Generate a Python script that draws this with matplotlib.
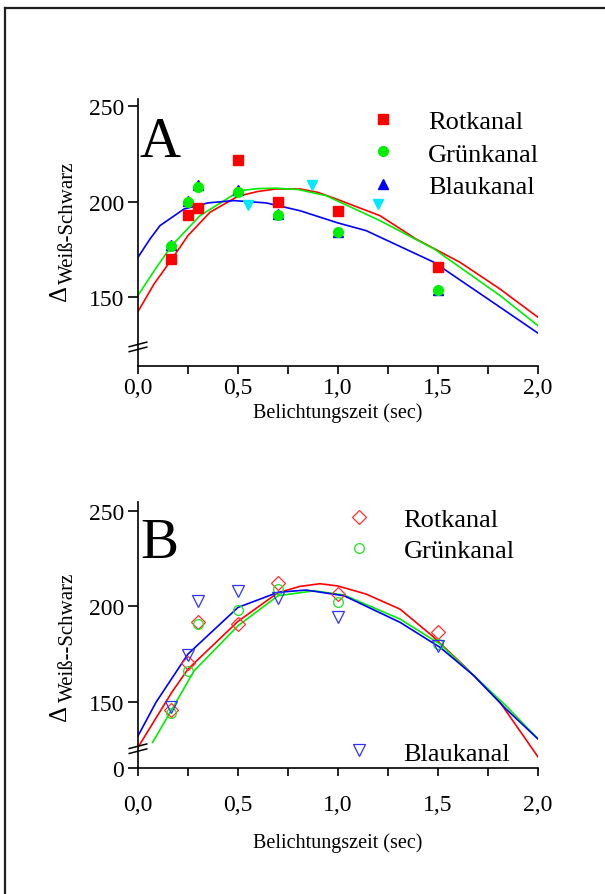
import matplotlib.pyplot as plt
from matplotlib.lines import Line2D
from matplotlib import transforms

plt.rcParams['font.family'] = ['Liberation Serif', 'DejaVu Serif']

# ---------------- Daten Teil A (gefüllte Symbole) ----------------
zeit = [0.167, 0.25, 0.30, 0.50, 0.70, 1.00, 1.50]
rot_a = [170, 193, 197, 222, 200, 195, 166]
gruen_a = [177, 200, 208, 205, 193, 184, 154]
blau_a = [177.5, 200.5, 209, 206, 193.5, 184.5, 154]
zeit_extra = [0.55, 0.87, 1.20]
blau_extra = [198.5, 209, 199]

# Fitkurven Teil A
rot_fit_a_x = [0.0, 0.08, 0.17, 0.25, 0.36, 0.50, 0.60, 0.69, 0.81, 0.90, 0.99, 1.21, 1.39, 1.61, 1.81, 2.0]
rot_fit_a_y = [142.6, 157, 170.2, 182.4, 194.6, 203, 205.5, 206.8, 206.8, 205, 201.6, 192.8, 180.6, 168.4, 154.4, 139.6]
gruen_fit_a_x = [0.0, 0.08, 0.168, 0.31, 0.51, 0.60, 0.69, 0.80, 0.94, 1.21, 1.48, 1.81, 2.0]
gruen_fit_a_y = [151, 163.8, 177.1, 192.8, 205.9, 207, 207.2, 206.5, 203.3, 190.2, 175.4, 151, 135.2]
blau_fit_a_x = [0.0, 0.06, 0.11, 0.23, 0.35, 0.48, 0.64, 0.81, 1.0, 1.14, 1.48, 1.81, 2.0]
blau_fit_a_y = [171, 180.6, 187.6, 196.3, 199.5, 200.7, 199.5, 195.4, 189, 185, 168.4, 144.9, 131.3]

# ---------------- Daten Teil B (offene Symbole) ----------------
rot_b = [145.7, 170.2, 191.8, 190.7, 212, 206.1, 186.2]
gruen_b = [143.8, 166.1, 190.6, 198.1, 208.9, 201.9, 180.1]
blau_b = [147, 174.5, 202.8, 208, 204.2, 194.4, 179.2]

rot_fit_b_x = [0.0, 0.17, 0.25, 0.50, 0.70, 0.81, 0.91, 1.00, 1.14, 1.31, 1.47, 1.63, 1.81, 2.0]
rot_fit_b_y = [126, 155, 167, 192, 207, 210.3, 211.7, 210.5, 206.3, 198.4, 184.5, 168.7, 149.6, 121]
gruen_fit_b_x = [0.073, 0.17, 0.28, 0.50, 0.70, 0.88, 1.03, 1.31, 1.51, 1.68, 1.84, 2.0]
gruen_fit_b_y = [128.6, 146, 166, 189.7, 205.4, 208, 205.8, 193.2, 180.1, 163.5, 147.8, 130.4]
blau_fit_b_x = [0.0, 0.09, 0.25, 0.50, 0.70, 0.84, 1.03, 1.31, 1.51, 1.68, 1.84, 2.0]
blau_fit_b_y = [132, 149.6, 174.9, 199.3, 207.2, 208.4, 205.4, 191.5, 178.4, 163.5, 146.1, 130.4]

x_ticks = [0.0, 0.5, 1.0, 1.5, 2.0]
x_ticklabels = ['0,0', '0,5', '1,0', '1,5', '2,0']
x_minor = [0.25, 0.75, 1.25, 1.75]
y_ticks_a = [150, 200, 250]
y_ticks_b = [115.2, 150, 200, 250]
y_ticklabels_b = ['0', '150', '200', '250']

ROT, GRUEN, BLAU, CYAN = '#ff0000', '#00ee00', '#0000ff', '#00e8ff'


def achsen_stil(ax, xpad=2, labelpad=3):
    for s in ['top', 'right']:
        ax.spines[s].set_visible(False)
    for s in ['left', 'bottom']:
        ax.spines[s].set_linewidth(1.2)
    ax.set_xlim(0, 2.0)
    ax.set_xticks(x_ticks)
    ax.set_xticklabels(x_ticklabels)
    ax.set_xticks(x_minor, minor=True)
    ax.tick_params(axis='x', which='both', direction='out', length=6, width=1.2, labelsize=17, pad=xpad)
    ax.tick_params(axis='y', direction='out', length=7.2, width=1.2, labelsize=17, pad=3)
    ax.set_xlabel('Belichtungszeit (sec)', fontsize=14.5, labelpad=labelpad)


def achsenbruch(ax, wert):
    # zwei schräge Striche auf der y-Achse
    tr = transforms.blended_transform_factory(ax.transAxes, ax.transData)
    for d in (0, 2.6):
        ax.plot([-0.022, 0.022], [wert - 1.2 + d, wert + 1.2 + d], color='k', lw=1.1,
                transform=tr, clip_on=False, zorder=10)


fig = plt.figure(figsize=(6.05, 8.95), dpi=100)

# Rahmen links und oben
fig.add_artist(Line2D([5 / 605, 5 / 605], [0, 1 - 9 / 895], transform=fig.transFigure, color='#202020', lw=1.6))
fig.add_artist(Line2D([5 / 605, 1], [1 - 9 / 895, 1 - 9 / 895], transform=fig.transFigure, color='#202020', lw=1.6))

# ---------------- Teil A ----------------
axA = fig.add_axes([138 / 605, 1 - 367 / 895, 400 / 605, 267 / 895])
achsen_stil(axA)
axA.set_ylim(114.1, 253.9)
axA.set_yticks(y_ticks_a)

axA.plot(rot_fit_a_x, rot_fit_a_y, color=ROT, lw=1.2, zorder=2)
axA.plot(gruen_fit_a_x, gruen_fit_a_y, color=GRUEN, lw=1.2, zorder=2)
axA.plot(blau_fit_a_x, blau_fit_a_y, color=BLAU, lw=1.2, zorder=2)

axA.plot(zeit, blau_a, '^', color=BLAU, ms=7.5, ls='none', label='Blaukanal', zorder=3)
axA.plot(zeit_extra, blau_extra, 'v', color=CYAN, ms=7.5, ls='none', zorder=3)
axA.plot(zeit, gruen_a, 'o', color=GRUEN, ms=7, ls='none', label='Grünkanal', zorder=4)
axA.plot(zeit, rot_a, 's', color=ROT, ms=6.5, ls='none', label='Rotkanal', zorder=5)

h, l = axA.get_legend_handles_labels()
order = [2, 1, 0]
axA.legend([h[i] for i in order], [l[i] for i in order], loc='upper left',
           bbox_to_anchor=(0.586, 0.959), frameon=False, fontsize=19,
           handlelength=0.8, handletextpad=1.3, labelspacing=0.33,
           borderpad=0, borderaxespad=0)
axA.text(0.005, 0.786, 'A', transform=axA.transAxes, fontsize=41, ha='left', va='baseline')
achsenbruch(axA, 122.8)

fig.text(60 / 605, 1 - 293 / 895, '\u0394', rotation=90, fontsize=18, ha='center', va='center')
fig.text(68 / 605, 1 - 223 / 895, 'Weiß-Schwarz', rotation=90, fontsize=15, ha='center', va='center')

# ---------------- Teil B ----------------
axB = fig.add_axes([138 / 605, 1 - 769 / 895, 400 / 605, 266 / 895])
achsen_stil(axB, xpad=13, labelpad=12)
axB.set_ylim(115.2, 254.5)
axB.set_yticks(y_ticks_b)
axB.set_yticklabels(y_ticklabels_b)

axB.plot(rot_fit_b_x, rot_fit_b_y, color=ROT, lw=1.2, zorder=2)
axB.plot(gruen_fit_b_x, gruen_fit_b_y, color=GRUEN, lw=1.2, zorder=2)
axB.plot(blau_fit_b_x, blau_fit_b_y, color=BLAU, lw=1.2, zorder=2)

r, = axB.plot(zeit, rot_b, 'D', mfc='none', mec='#ff3030', mew=0.9, ms=7, ls='none', zorder=4)
g, = axB.plot(zeit, gruen_b, 'o', mfc='none', mec='#20e020', mew=0.9, ms=7, ls='none', zorder=4)
b, = axB.plot(zeit, blau_b, 'v', mfc='none', mec='#3030ff', mew=0.9, ms=8.5, ls='none', zorder=4)

leg1 = axB.legend([r, g], ['Rotkanal', 'Grünkanal'], loc='upper left',
                  bbox_to_anchor=(0.525, 0.98), frameon=False, fontsize=19,
                  handlelength=0.8, handletextpad=1.3, labelspacing=0.3,
                  borderpad=0, borderaxespad=0)
axB.add_artist(leg1)
axB.legend([b], ['Blaukanal'], loc='upper left', bbox_to_anchor=(0.525, 0.101),
           frameon=False, fontsize=19, handlelength=0.8, handletextpad=1.3,
           borderpad=0, borderaxespad=0)
axB.text(0.005, 0.793, 'B', transform=axB.transAxes, fontsize=41, ha='left', va='baseline')
achsenbruch(axB, 124)

fig.text(60 / 605, 1 - 713 / 895, '\u0394', rotation=90, fontsize=18, ha='center', va='center')
fig.text(68 / 605, 1 - 637 / 895, 'Weiß--Schwarz', rotation=90, fontsize=15, ha='center', va='center')

fig.savefig('out.png', dpi=100)
